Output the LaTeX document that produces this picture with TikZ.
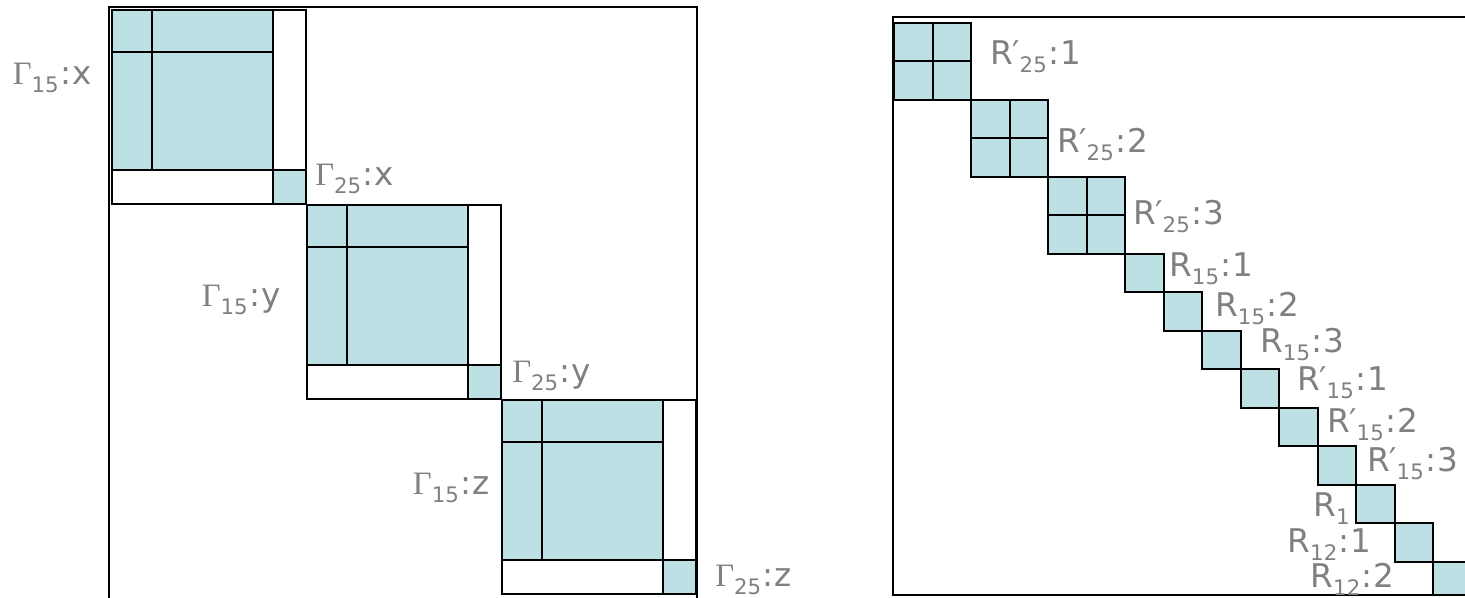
\documentclass[tikz,border=0pt]{standalone}
\usepackage{fontspec}
\setmainfont{DejaVu Sans}
\newfontfamily\seriffont{Liberation Serif}
\definecolor{lbl}{RGB}{128,128,128}
\definecolor{cellblue}{RGB}{188,224,227}
\newcommand\Gm{{\seriffont Γ}}
\newcommand\sbs[1]{\raisebox{-0.22em}{\fontsize{16}{17}\selectfont #1}}
\newcommand\Rp{R\kern-0.02em′}
\newcommand\cl{\kern0.04em:\kern0.04em}
\begin{document}
\begin{tikzpicture}[x=0.75pt,y=-0.75pt,
  blk/.style={draw=black,line width=1.5pt},
  cell/.style={fill=cellblue,draw=black,line width=1.5pt},
  lab/.style={text=lbl,font=\fontsize{24.5}{26}\selectfont,inner sep=0pt,anchor=base west},
  labr/.style={lab,anchor=base east}]
\useasboundingbox (0,0) rectangle (1465,598);
\clip (0,0) rectangle (1465,598);
% ---------- left panel ----------
\draw[blk] (109,7) rectangle (697,610);
\foreach \k in {0,1,2}{
  \pgfmathsetmacro\bx{112+195*\k}
  \pgfmathsetmacro\by{10+195*\k}
  \draw[blk] (\bx,\by) rectangle ++(194,194);
  \draw[cell] (\bx,\by) rectangle ++(160.5,160.5);
  \draw[blk] (\bx+40,\by) -- (\bx+40,\by+160.5);
  \draw[blk] (\bx,\by+42.5) -- (\bx+160.5,\by+42.5);
  \draw[cell] (\bx+160.5,\by+160.5) rectangle (\bx+194,\by+194);
}
\node[labr] (g15x) at (92,85) {\Gm\sbs{15}\cl x};
\node[lab] (g25x) at (315,186) {\Gm\sbs{25}\cl x};
\node[labr] (g15y) at (281,307) {\Gm\sbs{15}\cl y};
\node[lab] (g25y) at (512,383) {\Gm\sbs{25}\cl y};
\node[labr] (g15z) at (490,495) {\Gm\sbs{15}\cl z};
\node[lab] (g25z) at (715,587) {\Gm\sbs{25}\cl z};
% ---------- right panel ----------
\begin{scope}
  \clip (893,17) rectangle (1475,595.5);
  \foreach \i in {0,2,4}{
    \foreach \a/\b in {0/0,1/0,0/1,1/1}{
      \pgfmathsetmacro\cx{894+38.5*(\i+\a)}
      \pgfmathsetmacro\cy{23+38.5*(\i+\b)}
      \draw[cell] (\cx,\cy) rectangle ++(38.5,38.5);
    }
  }
  \foreach \i in {6,...,14}{
    \pgfmathsetmacro\cx{894+38.5*\i}
    \pgfmathsetmacro\cy{23+38.5*\i}
    \draw[cell] (\cx,\cy) rectangle ++(38.5,38.5);
  }
\end{scope}
\draw[blk] (893,17) rectangle (1475,595.5);
\node[lab] (r25a) at (990,65) {\Rp\sbs{25}\cl 1};
\node[lab] (r25b) at (1057,153) {\Rp\sbs{25}\cl 2};
\node[lab] (r25c) at (1133,225) {\Rp\sbs{25}\cl 3};
\node[lab] (r15a) at (1169,277) {R\sbs{15}\cl 1};
\node[lab] (r15b) at (1215,317) {R\sbs{15}\cl 2};
\node[lab] (r15c) at (1260,353) {R\sbs{15}\cl 3};
\node[lab] (rp15a) at (1297,391) {\Rp\sbs{15}\cl 1};
\node[lab] (rp15b) at (1327,433) {\Rp\sbs{15}\cl 2};
\node[lab] (rp15c) at (1367,472) {\Rp\sbs{15}\cl 3};
\node[labr] (r1) at (1350,517) {R\sbs{1}};
\node[labr] (r12a) at (1372,553) {R\sbs{12}\cl 1};
\node[labr] (r12b) at (1395,588) {R\sbs{12}\cl 2};
\end{tikzpicture}
\end{document}
